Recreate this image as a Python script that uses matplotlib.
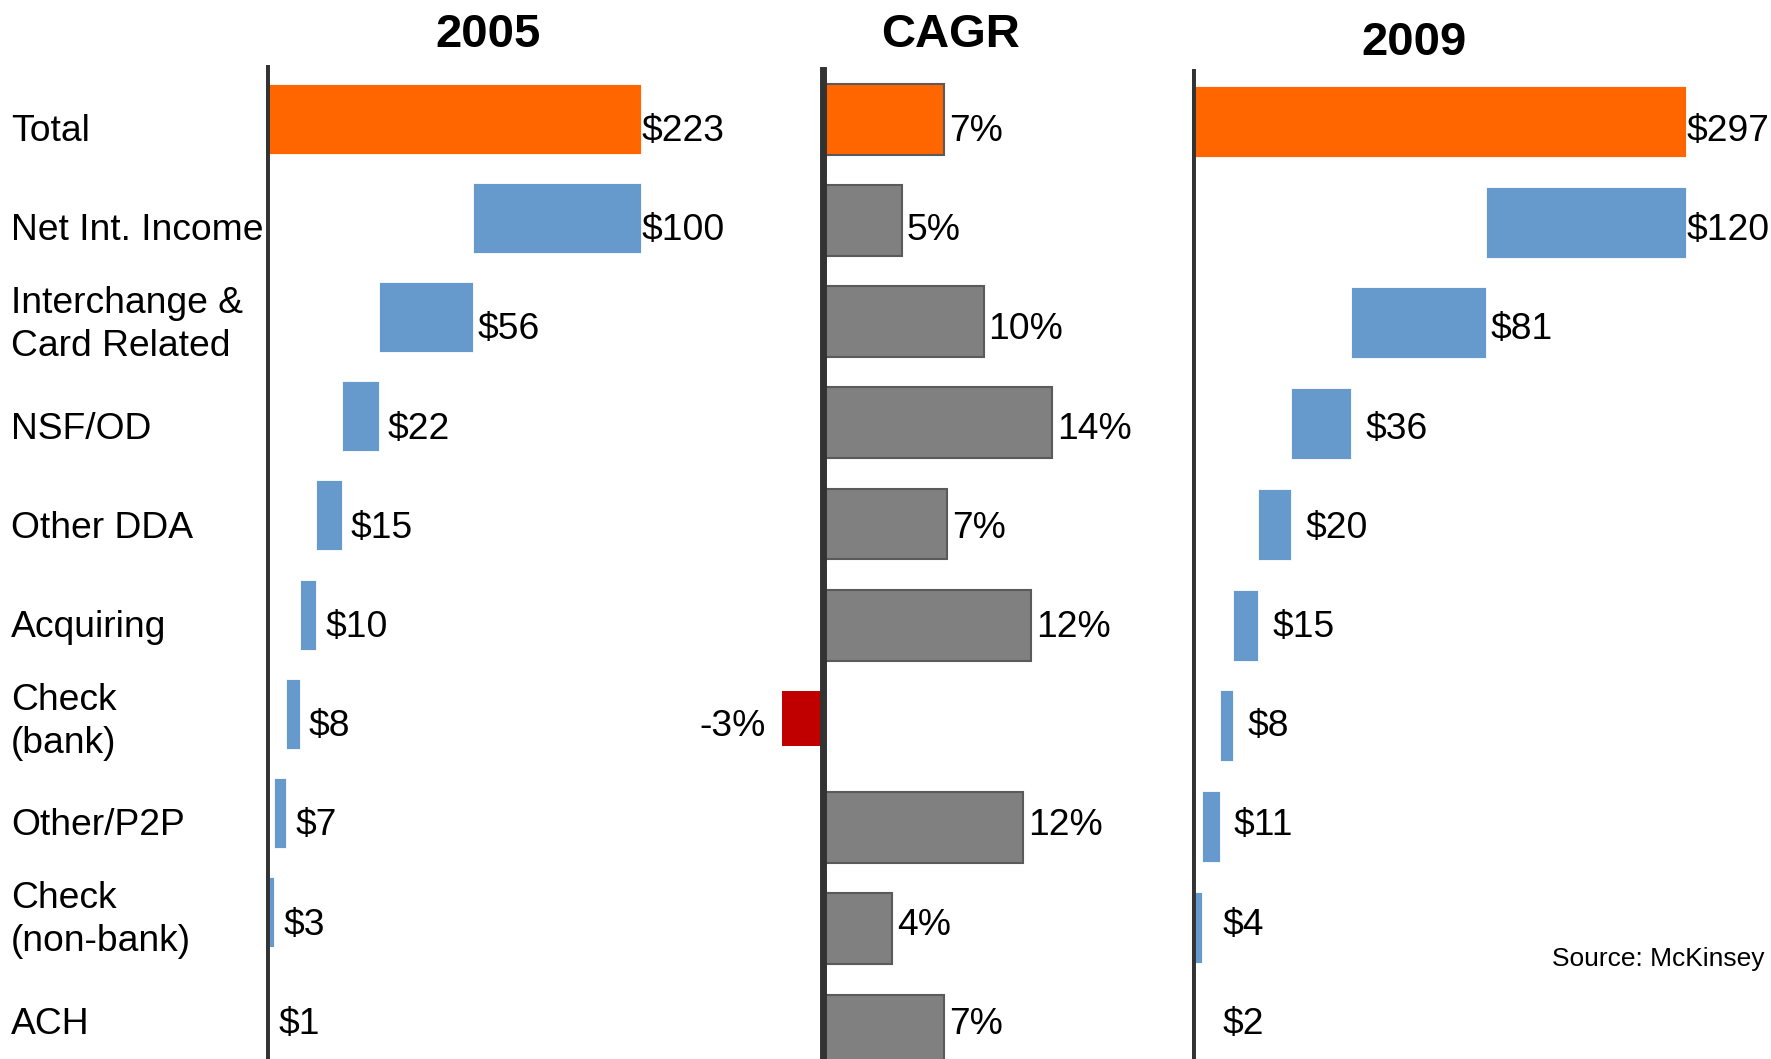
import matplotlib
matplotlib.use("Agg")
import matplotlib.pyplot as plt
from matplotlib.transforms import blended_transform_factory

plt.rcParams["font.family"] = ["Liberation Sans", "DejaVu Sans"]

# data
labels = ["Total", "Net Int. Income", "Interchange &\nCard Related", "NSF/OD",
          "Other DDA", "Acquiring", "Check\n(bank)", "Other/P2P",
          "Check\n(non-bank)", "ACH"]
rev_2005 = [223, 100, 56, 22, 15, 10, 8, 7, 3, 1]
rev_2009 = [297, 120, 81, 36, 20, 15, 8, 11, 4, 2]
cagr = [7.4, 4.8, 9.8, 14.0, 7.6, 12.7, -2.5, 12.2, 4.2, 7.4]
cagr_labels = ["7%", "5%", "10%", "14%", "7%", "12%", "-3%", "12%", "4%", "7%"]

W, H = 1771, 1059
ORANGE = "#FF6600"
BLUE = "#6699CC"
GRAY = "#808080"
RED = "#C00000"
LINE = "#333333"
FS = 26.8

fig = plt.figure(figsize=(W / 100, H / 100), dpi=100)


def add_panel(x0, ppu, xmin, xmax, row0, step, top):
    ax = fig.add_axes([(x0 + xmin * ppu) / W, 0, (xmax - xmin) * ppu / W, 1])
    ax.set_xlim(xmin, xmax)
    ax.set_ylim((H - row0) / step, -row0 / step)
    ax.axis("off")
    ax.axvline(0, ymin=0, ymax=1 - top / H, color=LINE, lw=5, zorder=5)
    return ax


def text_dy(s):
    return 0.08 if "\n" in s else 0.13


# 2005 panel (its rows also set where all the text rows sit)
ax1 = add_panel(266, 1.68, 0, 250, 118.6, 99.2, 68)
# CAGR panel
ax2 = add_panel(822.8, 16.4, -4, 16, 119.2, 101.2, 70)
# 2009 panel
ax3 = add_panel(1191.6, 1.663, 0, 330, 121.4, 100.75, 72)


def waterfall(ax, values, small_gap, min_x):
    tr = blended_transform_factory(ax.transData, ax1.transData)
    total = values[0]
    rights = [total]
    run = total
    for v in values[1:]:
        rights.append(run)
        run -= v
    lefts = [0] + [r - v for r, v in zip(rights[1:], values[1:])]
    colors = [ORANGE] + [BLUE] * (len(values) - 1)
    ax.barh(range(len(values)), values, left=lefts, height=0.705,
            color=colors, edgecolor="white", linewidth=0.6, zorder=2)
    for i, (r, v) in enumerate(zip(rights, values)):
        if v >= 100:
            gap = 1
        elif v >= 50:
            gap = 5
        else:
            gap = small_gap
        ax.annotate(f"${v}", (max(r, min_x), i + 0.13), xycoords=tr,
                    xytext=(gap, 0), textcoords="offset pixels",
                    ha="left", va="center", fontsize=FS)


waterfall(ax1, rev_2005, 9, 0)
waterfall(ax3, rev_2009, 14, 10)

tr2 = blended_transform_factory(ax2.transData, ax1.transData)
for i, (c, lab) in enumerate(zip(cagr, cagr_labels)):
    if c < 0:
        ax2.barh(i - 0.35, c, height=0.54, align="edge", color=RED, zorder=2)
        ax2.annotate(lab, (c, i + 0.13), xycoords=tr2, xytext=(-16, 0),
                     textcoords="offset pixels", ha="right", va="center",
                     fontsize=FS)
    else:
        fc = ORANGE if i == 0 else GRAY
        ax2.barh(i, c, height=0.70, color=fc, edgecolor="#5a5a5a",
                 linewidth=1.5, zorder=2)
        ax2.annotate(lab, (c, i + 0.13), xycoords=tr2, xytext=(5, 0),
                     textcoords="offset pixels", ha="left", va="center",
                     fontsize=FS)

# row labels
tr = blended_transform_factory(fig.transFigure, ax1.transData)
for i, lab in enumerate(labels):
    ax1.text(11 / W, i + text_dy(lab), lab, transform=tr, ha="left",
             va="center", fontsize=FS, linespacing=1.3, clip_on=False)

# headers
fig.text(488 / W, 1 - 35 / H, "2005", ha="center", va="center",
         fontsize=34, fontweight="bold")
fig.text(951 / W, 1 - 35 / H, "CAGR", ha="center", va="center",
         fontsize=34, fontweight="bold")
fig.text(1414 / W, 1 - 43 / H, "2009", ha="center", va="center",
         fontsize=34, fontweight="bold")

fig.text(1764 / W, 1 - 959 / H, "Source: McKinsey", ha="right", va="center",
         fontsize=19)

fig.savefig("out.png", dpi=100)
